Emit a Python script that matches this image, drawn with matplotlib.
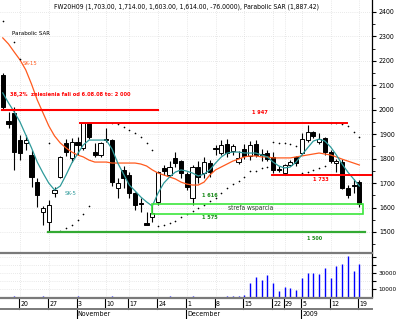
import matplotlib
matplotlib.use('Agg')
import matplotlib.pyplot as plt
import matplotlib.transforms as mtrans
from matplotlib.lines import Line2D
from matplotlib.patches import Rectangle
from matplotlib.ticker import MultipleLocator
import numpy as np

plt.rcParams['font.family'] = ['DejaVu Sans']
plt.rcParams['font.stretch'] = 'condensed'

# ---------------- data ----------------
dates = ["10-15", "10-16", "10-17", "10-20", "10-21", "10-22", "10-23", "10-24",
         "10-27", "10-28", "10-29", "10-30", "10-31", "11-03", "11-04", "11-05",
         "11-06", "11-07", "11-10", "11-12", "11-13", "11-14", "11-17", "11-18",
         "11-19", "11-20", "11-21", "11-24", "11-25", "11-26", "11-27", "11-28",
         "12-01", "12-02", "12-03", "12-04", "12-05", "12-08", "12-09", "12-10",
         "12-11", "12-12", "12-15", "12-16", "12-17", "12-18", "12-19", "12-22",
         "12-23", "12-29", "12-30", "01-02", "01-05", "01-06", "01-07", "01-08",
         "01-09", "01-12", "01-13", "01-14", "01-15", "01-16", "01-19"]

opens = [2142, 1955, 1987, 1876, 1865, 1815, 1704, 1582, 1541, 1660, 1725, 1864,
         1802, 1868, 1843, 1947, 1827, 1815, 1882, 1876, 1680, 1753, 1733, 1659,
         1620, 1535, 1561, 1622, 1760, 1733, 1802, 1790, 1737, 1640, 1766, 1741,
         1782, 1842, 1823, 1860, 1830, 1787, 1840, 1810, 1860, 1817, 1823, 1807,
         1756, 1741, 1774, 1807, 1823, 1876, 1909, 1868, 1884, 1827, 1782, 1786,
         1680, 1694, 1703]
highs = [2150, 1990, 2011, 1897, 1897, 1835, 1721, 1605, 1631, 1684, 1811, 1880,
         1885, 1889, 1947, 1947, 1864, 1870, 1925, 1880, 1721, 1770, 1745, 1663,
         1640, 1580, 1610, 1750, 1775, 1790, 1827, 1794, 1745, 1775, 1790, 1807,
         1794, 1856, 1876, 1880, 1860, 1830, 1860, 1872, 1876, 1840, 1835, 1827,
         1770, 1780, 1795, 1811, 1905, 1937, 1915, 1905, 1890, 1835, 1800, 1800,
         1692, 1715, 1714]
lows = [2000, 1925, 1754, 1794, 1835, 1684, 1602, 1528, 1500, 1643, 1721, 1810,
        1785, 1815, 1835, 1880, 1807, 1805, 1868, 1690, 1639, 1680, 1639, 1590,
        1582, 1528, 1540, 1610, 1733, 1725, 1766, 1721, 1672, 1610, 1700, 1721,
        1725, 1815, 1815, 1807, 1815, 1780, 1800, 1795, 1805, 1790, 1790, 1741,
        1745, 1733, 1770, 1770, 1815, 1868, 1885, 1860, 1815, 1782, 1745, 1676,
        1639, 1660, 1603]
closes = [2011, 1940, 1827, 1823, 1875, 1725, 1651, 1598, 1610, 1672, 1807, 1827,
          1868, 1855, 1945, 1888, 1815, 1864, 1878, 1705, 1700, 1721, 1659, 1610,
          1616, 1530, 1578, 1745, 1750, 1766, 1782, 1741, 1684, 1766, 1725, 1786,
          1745, 1838, 1856, 1823, 1850, 1803, 1810, 1856, 1815, 1813, 1800, 1754,
          1752, 1774, 1786, 1782, 1880, 1909, 1893, 1880, 1827, 1790, 1790, 1680,
          1651, 1690, 1614]

sk15 = [2294, 2269, 2236, 2204, 2163, 2105, 2040, 1987, 1934, 1893, 1864, 1844,
        1827, 1815, 1807, 1794, 1786, 1786, 1786, 1782, 1782, 1782, 1782, 1782,
        1778, 1770, 1754, 1741, 1733, 1725, 1717, 1704, 1696, 1692, 1692, 1704,
        1733, 1754, 1766, 1778, 1790, 1798, 1807, 1811, 1811, 1807, 1807, 1803,
        1803, 1803, 1803, 1807, 1811, 1815, 1819, 1823, 1819, 1815, 1807, 1798,
        1790, 1782, 1774]
sk5 = [2069, 2028, 1991, 1950, 1897, 1844, 1786, 1741, 1700, 1672, 1688, 1733,
       1782, 1819, 1856, 1876, 1876, 1876, 1876, 1839, 1782, 1737, 1692, 1668,
       1643, 1623, 1606, 1659, 1700, 1725, 1745, 1754, 1749, 1741, 1729, 1737,
       1754, 1782, 1807, 1823, 1827, 1827, 1823, 1823, 1823, 1815, 1807, 1786,
       1770, 1762, 1766, 1786, 1815, 1844, 1872, 1880, 1872, 1848, 1815, 1778,
       1745, 1717, 1688]
nan = float('nan')
sar = [2363, nan, 2277, 2208, nan, nan, nan, nan, 1864, nan, 1504, 1516,
       1530, 1550, 1575, 1606, nan, nan, nan, 1947, 1942, 1929, 1917, 1905,
       1889, 1864, 1835, 1525, 1528, 1535, 1545, 1560, 1572, 1585, 1600, 1612,
       1625, 1640, 1660, 1680, 1695, 1710, 1725, 1750, 1750, 1760, 1766, 1870,
       1866, 1862, 1858, 1852, 1741, 1745, 1752, 1760, 1768, 1945, 1944, 1943,
       1935, 1910, 1887.42]
volume = [300, 300, 900, 300, 300, 300, 300, 900, 300, 300, 300, 300,
          300, 900, 300, 300, 300, 300, 300, 900, 300, 300, 300, 300,
          300, 300, 300, 300, 300, 900, 300, 300, 300, 1200, 300, 300,
          300, 300, 300, 900, 1000, 1200, 2500, 17100, 25400, 21250, 27500, 17900,
          7900, 12100, 10800, 8750, 23300, 30400, 30400, 28750, 35800, 23300, 38750,
          40800, 51600, 32900, 40800]

day_ticks = [3, 8, 13, 18, 22, 27, 32, 37, 42, 47, 49, 52, 57, 62]
day_labels = ["20", "27", "3", "10", "17", "24", "1", "8", "15", "22", "29", "5", "12", "19"]
month_ticks = [13, 32, 52]
month_labels = ["November", "December", "2009"]
price_ticks = [1500, 1600, 1700, 1800, 1900, 2000, 2100, 2200, 2300, 2400]
vol_ticks = [10000, 20000, 30000, 40000, 50000]
vol_labels = ["10000", "", "30000", "", ""]

title = "FW20H09 (1,703.00, 1,714.00, 1,603.00, 1,614.00, -76.0000), Parabolic SAR (1,887.42)"

# ---------------- figure ----------------
W, H = 400, 319
fig = plt.figure(figsize=(W / 100, H / 100), dpi=100)


def fy(py):
    return 1 - py / H


ax = fig.add_axes([0, fy(253), 372 / W, 253 / H])
axv = fig.add_axes([0, fy(297), 372 / W, (297 - 254) / H])

x = np.arange(len(dates))
o = np.array(opens, float); c = np.array(closes, float)
hi = np.array(highs, float); lo = np.array(lows, float)

XL = (-0.48, 64.2)
for a in (ax, axv):
    a.set_xlim(*XL)
    for s in ('top', 'left', 'bottom'):
        a.spines[s].set_visible(False)
    a.spines['right'].set_color('black')
    a.spines['right'].set_linewidth(0.9)
    a.yaxis.tick_right()
    a.set_xticks(day_ticks)
    a.tick_params(axis='x', length=0, labelbottom=False)
    a.tick_params(axis='y', which='major', direction='out', length=3, width=0.8,
                  pad=2, labelsize=5.0, colors='black')
    a.tick_params(axis='y', which='minor', direction='out', length=2, width=0.6)
    a.grid(True, color='#d4d4d4', ls=(0, (1, 2)), lw=0.5)
    a.set_axisbelow(True)

ax.set_ylim(1414, 2449)
ax.set_yticks(price_ticks)
ax.yaxis.set_minor_locator(MultipleLocator(50))

axv.set_ylim(0, 53750)
axv.set_yticks(vol_ticks)
axv.set_yticklabels(vol_labels)
axv.tick_params(axis='y', which='major', pad=1.5, labelsize=4.6)

# wicks
ax.vlines(x, lo, hi, color='black', lw=0.8, zorder=2)
# bodies
up = c >= o
bot = np.minimum(o, c)
hgt = np.abs(c - o)
ax.bar(x[up], hgt[up], bottom=bot[up], width=0.72, color='white',
       edgecolor='black', lw=0.7, zorder=3)
ax.bar(x[~up], hgt[~up], bottom=bot[~up], width=0.72, color='black',
       edgecolor='black', lw=0.7, zorder=3)

# moving averages
ax.plot(x, sk15, color='#ff5a1e', lw=0.9, zorder=4)
ax.plot(x, sk5, color='#2e9a9a', lw=0.9, zorder=4)
# parabolic SAR
ax.plot(x, sar, 'o', ms=1.2, color='black', mec='none', zorder=4)

# horizontal levels
ax.plot([-0.13, 27.0], [2000, 2000], color='#ff0000', lw=1.5, zorder=5)
ax.plot([13.5, 59.9], [1947, 1947], color='#ff0000', lw=1.4, zorder=5)
ax.plot([46.8, 64.2], [1733, 1733], color='#ff0000', lw=1.4, zorder=5)
ax.plot([7.9, 63.0], [1500, 1500], color='#33aa33', lw=1.6, zorder=5)
ax.add_patch(Rectangle((26.0, 1575), 36.7, 41, fill=False, edgecolor='#3ce63c',
                       lw=1.2, zorder=5))

# annotations: (text, x, y, colour, bold, target width in px)
fitted = []
notes = [
    ("Parabolic SAR", 1.6, 2314, 'black', False, 38),
    ("SK-15", 3.5, 2191, '#ff5a1e', False, 15),
    ("38,2%  zniesienia fali od 6.08.08 to: 2 000", 1.26, 2062, '#ff0000', True, 122),
    ("SK-5", 10.8, 1659, '#2e9a9a', False, 12),
    ("1 947", 43.3, 1987, '#ff0000', True, 16),
    ("1 733", 54.0, 1713, '#ff0000', True, 16),
    ("1 616", 34.6, 1651, '#1a8a1a', True, 16),
    ("1 575", 34.6, 1561, '#1a8a1a', True, 16),
    ("strefa wsparcia", 39.2, 1598, '#204020', False, 46),
    ("1 500", 52.9, 1475, '#1a8a1a', True, 15),
]
for txt, xx, yy, col, bold, wpx in notes:
    t = ax.text(xx, yy, txt, color=col, fontsize=6, va='center', ha='left',
                fontweight='bold' if bold else 'normal', zorder=6)
    fitted.append((t, wpx))

# volume
axv.vlines(x, 0, volume, color='#0000ff', lw=1.0)

# title
tt = fig.text(54 / W, fy(6.5), title, fontsize=6, ha='left', va='center', color='black')
fitted.append((tt, 268))

# separators
for yy, lw in ((253, 1.6), (297.7, 1.6), (309, 1.4)):
    fig.add_artist(Line2D([0, 372 / W], [fy(yy), fy(yy)], color='#7a7a7a', lw=lw))

# date axis
tr = mtrans.blended_transform_factory(axv.transData, fig.transFigure)
for i, lab in zip(day_ticks, day_labels):
    axv.add_line(Line2D([i - 0.15, i - 0.15], [fy(298), fy(309)], transform=tr,
                        color='black', lw=0.8, clip_on=False))
    axv.text(i + 0.05, fy(303.5), lab, transform=tr, fontsize=5.0, ha='left',
             va='center', clip_on=False)
for i, lab in zip(month_ticks, month_labels):
    axv.add_line(Line2D([i - 0.15, i - 0.15], [fy(309), fy(319)], transform=tr,
                        color='black', lw=0.8, clip_on=False))
    axv.text(i + 0.05, fy(314.5), lab, transform=tr, fontsize=5.0, ha='left',
             va='center', clip_on=False)

# scale annotation fonts so that their widths match the reference
fig.canvas.draw()
r = fig.canvas.get_renderer()
for t, wpx in fitted:
    wcur = t.get_window_extent(r).width
    if wcur > 0:
        t.set_fontsize(min(t.get_fontsize() * wpx / wcur, 6.5))

fig.savefig('out.png', dpi=100)
